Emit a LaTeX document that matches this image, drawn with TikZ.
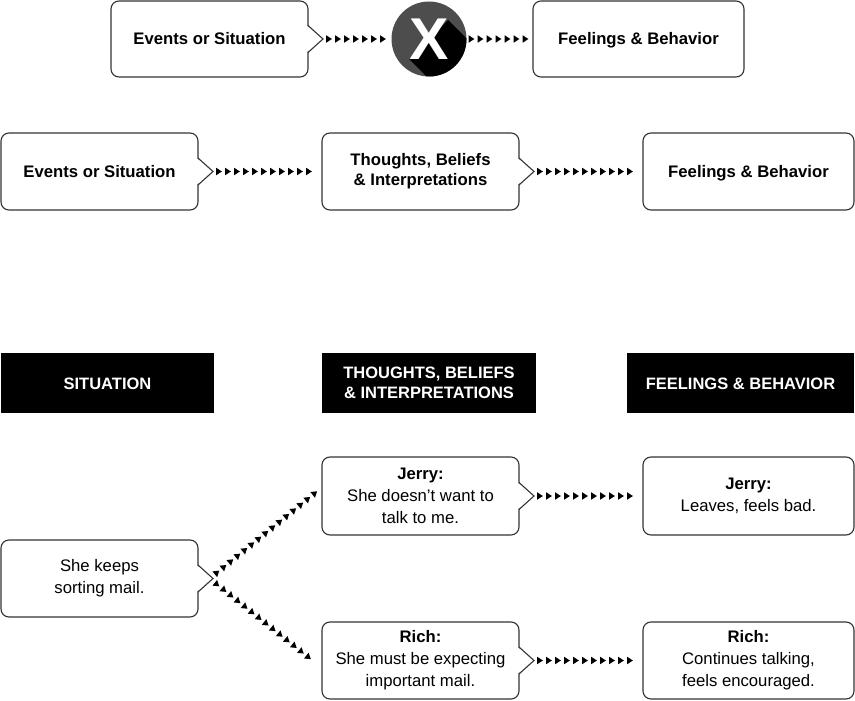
\documentclass[tikz,border=0pt]{standalone}
\usepackage{fontspec}
\setmainfont{Liberation Sans}
\usetikzlibrary{calc,decorations.markings}
\definecolor{edge}{HTML}{333333}
\definecolor{xgray}{HTML}{4D4D4D}
\tikzset{
  box/.style={draw=edge, line width=1.1pt, rounded corners=8pt, fill=white,
    align=center, inner sep=0pt, outer sep=0pt, minimum height=77pt,
    font=\fontsize{16.7}{22}\selectfont},
  boldbox/.style={box, font=\fontsize{16.7}{20}\bfseries\selectfont},
  blk/.style={fill=black, text=white, align=center, inner sep=0pt, outer sep=0pt,
    minimum height=60pt, font=\fontsize{16.5}{20}\bfseries\selectfont},
  oneline/.style={text height=15pt, text depth=3pt},
  chevline/.style={draw=edge, line width=1.1pt, line join=miter},
  tri/.style={decorate, decoration={markings,
    mark=between positions 0 and 1 step 9pt with
      {\fill[black] (-2.8pt,-3.7pt) -- (2.9pt,0pt) -- (-2.8pt,3.7pt) -- cycle;}}}
}
\newcommand\mychev[1]{%
  \fill[white] ($(#1.east)+(-1.6,-13.5)$) -- ($(#1.east)+(15,0)$) -- ($(#1.east)+(-1.6,13.5)$) -- cycle;
  \draw[chevline] ($(#1.east)+(0,-13.5)$) -- ($(#1.east)+(15,0)$) coordinate (#1-tip) -- ($(#1.east)+(0,13.5)$);}
\begin{document}
\begin{tikzpicture}[x=1pt,y=-1pt]
\useasboundingbox (0,0) rectangle (855,701);

% ---- top row
\node[boldbox, oneline, minimum width=197pt, minimum height=76pt] (e1) at (209.5,39) {Events or Situation};
\mychev{e1}
\node[circle, fill=xgray, minimum size=75pt, inner sep=0pt, outer sep=0pt] (X) at (429,39) {};
\begin{scope}
  \clip (429,39) circle (37.5pt);
  \fill[black] (448,20) -- (531,103) -- (492,142) -- (409,59) -- cycle;
\end{scope}
\node[text=white, inner sep=0pt, font=\fontsize{59}{59}\bfseries\selectfont] (Xl) at (X.center) {X};
\node[boldbox, oneline, minimum width=211pt, minimum height=76pt] (f1) at (638.5,39) {Feelings \& Behavior};
\path[tri] ($(e1-tip)+(6,0)$) -- ($(X.west)+(-4,0)$);
\path[tri] ($(X.east)+(5,0)$) -- ($(f1.west)+(-4,0)$);

% ---- second row
\node[boldbox, oneline, minimum width=197pt] (e2) at (99.5,171.5) {Events or Situation};
\mychev{e2}
\node[boldbox, minimum width=197pt] (t2) at (420.5,171.5) {Thoughts, Beliefs\\\& Interpretations};
\mychev{t2}
\node[boldbox, oneline, minimum width=211pt] (f2) at (748.5,171.5) {Feelings \& Behavior};
\path[tri] ($(e2-tip)+(6,0)$) -- ($(t2.west)+(-5,0)$);
\path[tri] ($(t2-tip)+(6,0)$) -- ($(f2.west)+(-5,0)$);

% ---- headers
\node[blk, oneline, minimum width=213pt] (h1) at (107.5,383) {SITUATION};
\node[blk, minimum width=214pt] (h2) at (429,383) {THOUGHTS, BELIEFS\\\& INTERPRETATIONS};
\node[blk, oneline, minimum width=227pt] (h3) at (740.5,383) {FEELINGS \& BEHAVIOR};

% ---- example
\node[box, minimum width=197pt] (sit) at (99.5,578.5) {She keeps\\sorting mail.};
\mychev{sit}
\node[box, minimum width=197pt, minimum height=78pt] (jt) at (420.5,496) {\textbf{Jerry:}\\She doesn’t want to\\talk to me.};
\mychev{jt}
\node[box, minimum width=211pt, minimum height=78pt] (jf) at (748.5,496) {\textbf{Jerry:}\\Leaves, feels bad.};
\node[box, minimum width=197pt] (rt) at (420.5,660.5) {\textbf{Rich:}\\She must be expecting\\important mail.};
\mychev{rt}
\node[box, minimum width=211pt] (rf) at (748.5,660.5) {\textbf{Rich:}\\Continues talking,\\feels encouraged.};

\path[tri] ($(sit-tip)+(4,-6)$) -- ($(jt.west)+(-7,-3)$);
\path[tri] ($(sit-tip)+(4,6)$) -- ($(rt.west)+(-7,2)$);
\path[tri] ($(jt-tip)+(6,0)$) -- ($(jf.west)+(-5,0)$);
\path[tri] ($(rt-tip)+(6,0)$) -- ($(rf.west)+(-5,0)$);
\end{tikzpicture}
\end{document}
